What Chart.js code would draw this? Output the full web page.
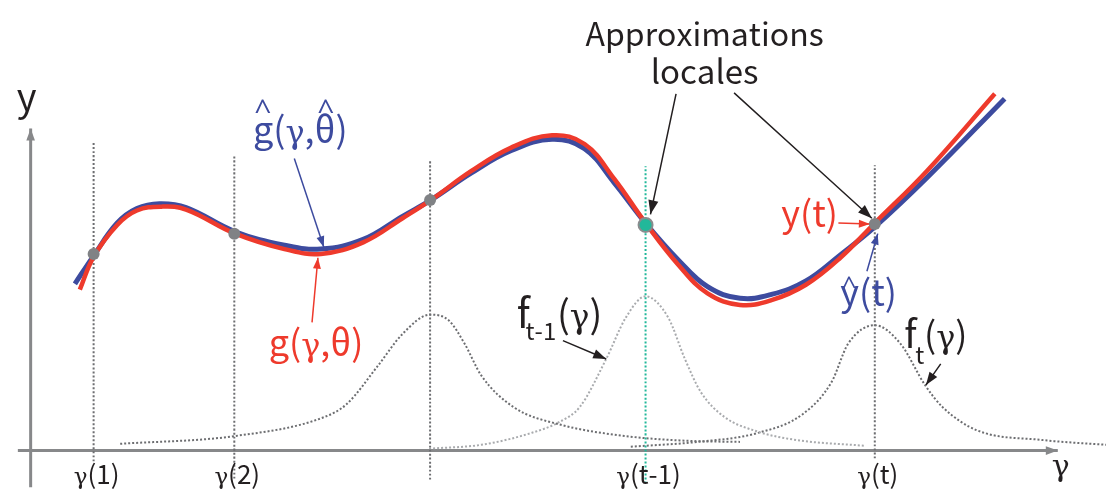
<!DOCTYPE html>
<html>
<head>
<meta charset="utf-8">
<script src="https://cdn.jsdelivr.net/npm/chart.js@4/dist/chart.umd.min.js"></script>
<style>
  html, body { margin: 0; background: #fff; }
  #wrap { width: 1115px; height: 502px; }
</style>
</head>
<body>
<div id="wrap"><canvas id="chart"></canvas></div>
<script>
// gamma positions of the observations and their tick labels
const gammaTicks = [86, 229, 428, 647, 880];
const tickLabels = ['γ(1)', 'γ(2)', '', 'γ(t-1)', 'γ(t)'];
const guideTop = [319, 306, 302, 295, 296];
const guideBottom = [-11, -29, -30, -34, -8];

// estimated model  ĝ(γ, θ̂)  (blue)
const gHatX = [67, 86, 110, 130, 153, 180, 230, 280, 317, 360, 400, 429, 470, 510, 552, 585, 615, 647, 680, 710, 743, 775, 810, 845, 880, 933, 1012];
const gHatY = [173, 202, 236, 251, 256, 252, 227, 213, 209, 219, 243, 260, 288, 311, 323, 313, 278, 236, 198, 170, 158, 162, 176, 203, 232, 283, 365];

// true model  g(γ, θ)  (red)
const gX = [72, 86, 110, 130, 155, 180, 230, 280, 317, 360, 400, 429, 470, 510, 552, 585, 615, 647, 680, 710, 743, 775, 810, 845, 880, 933, 1002];
const gY = [167, 201, 234, 249, 253, 250, 225, 209, 204, 216, 241, 260, 290, 314, 327, 318, 282, 236, 193, 163, 151, 156, 172, 200, 236, 290, 370];

// observed points y(1), y(2), ..., y(t)
const obsX = [86, 229, 428, 880];
const obsY = [204, 225, 260, 235];
const prevX = [647];
const prevY = [234];

// local weighting kernels
const fAX = [113, 229, 321, 343, 375, 400, 428, 447, 463, 480, 513, 560, 627, 693, 743];
const fAY = [7, 15, 35, 48, 88, 121, 141, 135, 111, 78, 45, 27, 15, 10, 9];
const fPrevX = [427, 480, 530, 560, 580, 607, 627, 647, 670, 687, 703, 727, 760, 800, 869];
const fPrevY = [2, 6, 18, 30, 45, 95, 138, 160, 138, 95, 61, 35, 20, 11, 5];
const fTX = [632, 700, 760, 807, 836, 853, 880, 906, 931, 949, 984, 1050, 1115];
const fTY = [4, 9, 18, 38, 71, 111, 130, 111, 68, 45, 21, 11, 6];

// axes
const axisYX = [22, 22];
const axisYY = [-38, 334];
const axisXX = [9, 1066];
const axisXY = [0, 0];

const BLUE = '#3d4b9f';
const RED = '#ee3a2c';
const AXIS = '#87888a';
const DARK = '#6d6e71';
const LIGHT = '#a9abae';
const TEAL = '#22b89a';
const INK = '#231f20';

// annotation arrows [x0, y0, x1, y1, colour, width, head]
const arrows = [
  [290, 303, 320, 211, BLUE, 1.5, 11],
  [308, 133, 314, 200, RED, 1.5, 11],
  [678, 370, 652, 245, INK, 1.5, 14],
  [737, 371, 877, 241, INK, 1.5, 14],
  [843, 236, 875, 235, RED, 1.5, 11],
  [872, 186, 883, 225, BLUE, 1.5, 11],
  [563, 114, 607, 95, INK, 1.5, 13],
  [947, 90, 932, 68, INK, 1.5, 13]
];

// text [text, x, y, size, colour, align, letter spacing]
const notes = [
  ['Approximations', 707, 420, 32, INK, 'center', 0],
  ['locales', 707, 380, 33, INK, 'center', 0],
  ['y', 18, 352, 38, INK, 'center', 0],
  ['γ', 1069, -26, 34, INK, 'center', 0],
  ['g(γ,θ)', 248, 319, 36, BLUE, 'left', 0],
  ['^', 258, 342, 30, BLUE, 'center', 0],
  ['^', 322, 342, 30, BLUE, 'center', 0],
  ['g(γ,θ)', 264, 98, 36, RED, 'left', 0],
  ['y(t)', 785, 232, 36, RED, 'left', 0],
  ['y(t)', 845, 150, 36, BLUE, 'left', 0],
  ['^', 854, 161, 26, BLUE, 'center', 0],
  ['f', 516, 127, 40, INK, 'left', 0],
  ['t-1', 525, 115, 24, INK, 'left', 0],
  ['(γ)', 557, 127, 38, INK, 'left', 0],
  ['f', 910, 106, 38, INK, 'left', 0],
  ['t', 921, 90, 24, INK, 'left', 0],
  ['(γ)', 930, 106, 36, INK, 'left', 0]
];

const FONT = '"Noto Sans CJK JP", "Open Sans", sans-serif';
const GAMMA = '"DejaVu Serif", serif';
const HAT = '"Open Sans", sans-serif';

function pts(xs, ys) {
  return xs.map((x, i) => ({ x: x, y: ys[i] }));
}

function curve(xs, ys, color, width, dash, smooth) {
  const d = {
    data: pts(xs, ys),
    showLine: true,
    borderColor: color,
    borderWidth: width,
    borderDash: dash || [],
    borderCapStyle: 'butt',
    pointRadius: 0,
    fill: false
  };
  if (smooth) d.tension = 0.4;
  else d.cubicInterpolationMode = 'monotone';
  return d;
}

// draw a string char by char; gamma gets a font with the looped tail
function drawMixed(ctx, text, x, y, size, color, align, sp) {
  const parts = Array.from(text).map(ch => {
    let f = size + 'px ' + FONT;
    if (ch === 'γ') f = Math.round(size * 0.88) + 'px ' + GAMMA;
    if (ch === '^') f = size + 'px ' + HAT;
    return { ch: ch, font: f };
  });
  let total = 0;
  parts.forEach(p => { ctx.font = p.font; p.w = ctx.measureText(p.ch).width + sp; total += p.w; });
  total -= sp;
  let cx = align === 'center' ? x - total / 2 : (align === 'right' ? x - total : x);
  ctx.fillStyle = color;
  ctx.textAlign = 'left';
  parts.forEach(p => { ctx.font = p.font; ctx.fillText(p.ch, cx, y); cx += p.w; });
}

const datasets = [];

// points on top
datasets.push({
  data: pts(prevX, prevY), pointRadius: 7, backgroundColor: TEAL,
  borderColor: '#8a8c8e', borderWidth: 2, showLine: false
});
datasets.push({
  data: pts(obsX, obsY), pointRadius: 6, backgroundColor: '#808285',
  borderWidth: 0, showLine: false
});

// annotation arrows
arrows.forEach(a => {
  const d = curve([a[0], a[2]], [a[1], a[3]], a[4], a[5]);
  d.arrowHead = a[6];
  datasets.push(d);
});

datasets.push(curve(gX, gY, RED, 4.5, null, true));
datasets.push(curve(gHatX, gHatY, BLUE, 5, null, true));

// vertical guides
gammaTicks.forEach((g, i) => {
  const col = i === 3 ? TEAL : DARK;
  datasets.push(curve([g, g], [guideBottom[i], guideTop[i]], col, 2, [2, 2]));
});

datasets.push(curve(fAX, fAY, DARK, 2, [2, 2]));
datasets.push(curve(fPrevX, fPrevY, LIGHT, 2, [2, 2]));
datasets.push(curve(fTX, fTY, DARK, 2, [2, 2]));

// axes
const ay = curve(axisYX, axisYY, AXIS, 3);
ay.arrowHead = 12;
datasets.push(ay);
const ax = curve(axisXX, axisXY, AXIS, 3);
ax.arrowHead = 12;
datasets.push(ax);

const decorations = {
  id: 'decorations',
  afterDatasetsDraw(chart) {
    const ctx = chart.ctx;
    const sx = chart.scales.x, sy = chart.scales.y;
    ctx.save();
    // arrow heads at the last point of flagged datasets
    chart.data.datasets.forEach((ds, i) => {
      if (!ds.arrowHead) return;
      const el = chart.getDatasetMeta(i).data;
      const p0 = el[el.length - 2], p1 = el[el.length - 1];
      const ang = Math.atan2(p1.y - p0.y, p1.x - p0.x);
      const L = ds.arrowHead, W = L * 0.36;
      ctx.fillStyle = ds.borderColor;
      ctx.beginPath();
      ctx.moveTo(p1.x, p1.y);
      ctx.lineTo(p1.x - L * Math.cos(ang) + W * Math.sin(ang), p1.y - L * Math.sin(ang) - W * Math.cos(ang));
      ctx.lineTo(p1.x - L * Math.cos(ang) - W * Math.sin(ang), p1.y - L * Math.sin(ang) + W * Math.cos(ang));
      ctx.closePath();
      ctx.fill();
    });
    // text
    ctx.textBaseline = 'alphabetic';
    notes.forEach(n => {
      drawMixed(ctx, n[0], sx.getPixelForValue(n[1]), sy.getPixelForValue(n[2]), n[3], n[4], n[5], n[6]);
    });
    // gamma tick labels
    gammaTicks.forEach((g, i) => {
      if (!tickLabels[i]) return;
      drawMixed(ctx, tickLabels[i], sx.getPixelForValue(g + 3), sy.getPixelForValue(-35), 26, INK, 'center', 0);
    });
    ctx.restore();
  }
};

new Chart(document.getElementById('chart'), {
  type: 'scatter',
  data: { datasets: datasets },
  options: {
    responsive: true,
    maintainAspectRatio: false,
    animation: false,
    layout: { padding: 0 },
    plugins: { legend: { display: false }, tooltip: { enabled: false } },
    scales: {
      x: { type: 'linear', min: 0, max: 1115, display: false },
      y: { type: 'linear', min: -44, max: 458, display: false }
    }
  },
  plugins: [decorations]
});
</script>
</body>
</html>
